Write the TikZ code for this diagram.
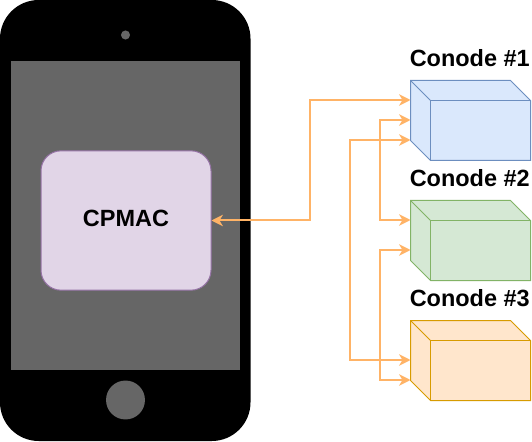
\documentclass[tikz,border=0pt]{standalone}
\usepackage{fontspec}
\setmainfont{Liberation Sans}
\usetikzlibrary{arrows.meta}
\definecolor{wireorange}{HTML}{FFB366}
\definecolor{screengray}{HTML}{666666}
\definecolor{appfill}{HTML}{E1D5E7}
\definecolor{appedge}{HTML}{9673A6}
\definecolor{bluefill}{HTML}{DAE8FC}
\definecolor{blueedge}{HTML}{6C8EBF}
\definecolor{greenfill}{HTML}{D5E8D4}
\definecolor{greenedge}{HTML}{82B366}
\definecolor{orangefill}{HTML}{FFE6CC}
\definecolor{orangeedge}{HTML}{D79B00}
\tikzset{%
	bigtext/.style = {font=\fontsize{17.6}{20}\selectfont\bfseries},
	appbox/.style  = {draw=appedge, fill=appfill, line width=0.75pt, rounded corners=15pt, minimum width=127.5pt, minimum height=104.5pt, inner sep=0pt, text depth=3.4pt, bigtext},
	front/.style   = {draw, rectangle, line width=0.75pt, minimum width=75pt, minimum height=45pt, inner sep=0pt},
	title/.style   = {anchor=base west, inner sep=0pt, bigtext},
	wire/.style    = {draw=wireorange, line width=1.5pt, arrows={Stealth[length=8.5pt,width=8.5pt,inset=2.5pt]-Stealth[length=8.5pt,width=8.5pt,inset=2.5pt]}},
}
\begin{document}
\begin{tikzpicture}[x=0.75pt,y=-0.75pt]
	\useasboundingbox (0,0) rectangle (532,442);
	
	\fill[black, rounded corners=29pt] (0,0) rectangle (250.5,441);
	\fill[screengray] (11,61) rectangle (240,370);
	\fill[screengray] (125.5,35) circle (3.4pt);
	\fill[screengray] (125.5,400) circle (14.6pt);
	
	\node[appbox] (cpmac) at (126,220.5) {CPMAC};
	
	\foreach \name/\ytop/\tone/\num/\ybase in {cubeA/80.5/blue/1/66.5,cubeB/200.5/green/2/186.5,cubeC/320.5/orange/3/306.5} {
		\filldraw[draw=\tone edge, fill=\tone fill, line width=0.75pt] (410.5,\ytop) -- (510.5,\ytop) -- (530.5,\ytop+20) -- (530.5,\ytop+80) -- (430.5,\ytop+80) -- (410.5,\ytop+60) -- cycle;
		\draw[draw=\tone edge, line width=0.75pt] (410.5,\ytop) -- (430.5,\ytop+20);
		\node[front, draw=\tone edge] (\name) at (480.5,\ytop+50) {};
		\node[title] (\name title) at (409.5,\ybase) {Conode \#\num};
	}
	
	\coordinate (portA) at (410.5,100);
	\coordinate (portB) at (410.5,120);
	\coordinate (portC) at (410.5,140);
	\coordinate (portD) at (410.5,220);
	\coordinate (portE) at (410.5,250);
	\coordinate (portF) at (410.5,360);
	\coordinate (portG) at (410.5,380);
	\coordinate (busA) at (310,160);
	\coordinate (busB) at (380,170);
	\coordinate (busC) at (350,250);
	\coordinate (busD) at (380,315);
	
	\draw[wire] (cpmac.east) -| (busA) |- (portA);
	\draw[wire] (portB) -| (busB) |- (portD);
	\draw[wire] (portC) -| (busC) |- (portF);
	\draw[wire] (portE) -| (busD) |- (portG);
\end{tikzpicture}
\end{document}
